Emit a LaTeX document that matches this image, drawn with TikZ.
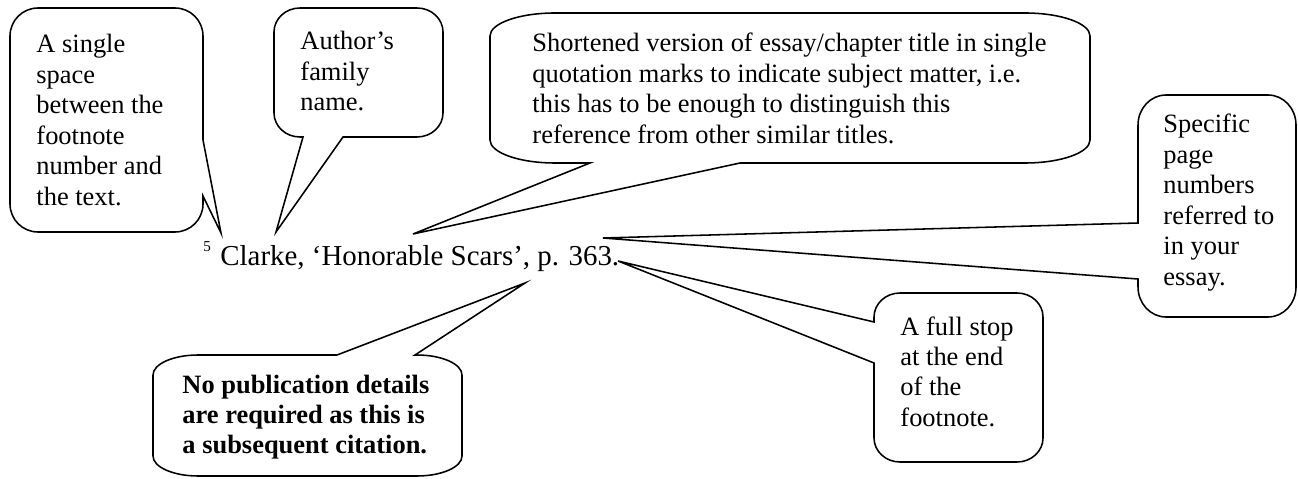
\documentclass[tikz,border=0pt]{standalone}
\usepackage{fontspec}
\setmainfont{Liberation Serif}
\usetikzlibrary{calc}
\def\cXa{0}\def\cXb{0}\def\cYa{0}\def\cYb{0}\def\cRx{0}\def\cRy{0}
\def\cKk{0.552}
\newcommand\cboxdims[6]{\def\cXa{#1}\def\cYa{#2}\def\cXb{#3}\def\cYb{#4}\def\cRx{#5}\def\cRy{#6}}
\newcommand\cpath[4]{(\cXa+\cRx,\cYa) #1 -- (\cXb-\cRx,\cYa)
 .. controls (\cXb-\cRx+\cKk*\cRx,\cYa) and (\cXb,\cYa+\cRy-\cKk*\cRy) .. (\cXb,\cYa+\cRy) #2
 -- (\cXb,\cYb-\cRy) .. controls (\cXb,\cYb-\cRy+\cKk*\cRy) and (\cXb-\cRx+\cKk*\cRx,\cYb) .. (\cXb-\cRx,\cYb) #3
 -- (\cXa+\cRx,\cYb) .. controls (\cXa+\cRx-\cKk*\cRx,\cYb) and (\cXa,\cYb-\cRy+\cKk*\cRy) .. (\cXa,\cYb-\cRy) #4
 -- (\cXa,\cYa+\cRy) .. controls (\cXa,\cYa+\cRy-\cKk*\cRy) and (\cXa+\cRx-\cKk*\cRx,\cYa) .. (\cXa+\cRx,\cYa) -- cycle}
\newcommand\clines[1]{\parbox[t]{12cm}{\raggedright\fontsize{11.9}{13.7}\selectfont #1}}
\tikzset{
  callout/.style={draw=black, line width=0.7pt, fill=white},
  ctext/.style={anchor=base west, inner sep=0pt},
}
\begin{document}
\begin{tikzpicture}[x=0.45pt, y=-0.45pt]
\useasboundingbox (0,0) rectangle (1298,479);
% main footnote text
\node[ctext] (fnum) at (203,252) {\fontsize{6.8}{8}\selectfont 5};
\node[ctext] (ref) at (220,266) {\fontsize{13}{15}\selectfont Clarke, ‘Honorable Scars’, p. 363.};
% tail tips
\coordinate (tip1) at (221,233);
\coordinate (tip2) at (276,232);
\coordinate (tip3) at (413,234);
\coordinate (tip4) at (603,238);
\coordinate (tip5) at (618,261);
\coordinate (tip6) at (525,283);
% callout 1
\cboxdims{10}{8}{203}{232}{28}{28}
\draw[callout] \cpath{}{-- (203,140) -- (tip1) -- (203,196)}{}{};
\node[ctext] (t1) at (36,53) {\clines{A single\\space\\between the\\footnote\\number and\\the text.}};
% callout 2
\cboxdims{274}{8}{443}{137}{26}{24}
\draw[callout] \cpath{}{}{-- (343,137) -- (tip2) -- (303,137)}{};
\node[ctext] (t2) at (300,50) {\clines{Author’s\\family\\name.}};
% callout 3
\cboxdims{490}{13}{1090}{163}{65}{23}
\draw[callout] \cpath{}{}{-- (740,163) -- (tip3) -- (590,163)}{};
\node[ctext] (t3) at (532,52) {\clines{Shortened version of essay/chapter title in single\\quotation marks to indicate subject matter, i.e.\\this has to be enough to distinguish this\\reference from other similar titles.}};
% callout 4
\cboxdims{1138}{95}{1296}{317}{28}{30}
\draw[callout] \cpath{}{}{}{-- (1138,279) -- (tip4) -- (1138,223)};
\node[ctext] (t4) at (1163,133) {\clines{Specific\\page\\numbers\\referred to\\in your\\essay.}};
% callout 5
\cboxdims{874}{293}{1043}{462}{26}{24}
\draw[callout] \cpath{}{}{}{-- (874,363) -- (tip5) -- (874,322)};
\node[ctext] (t5) at (900,335) {\clines{A full stop\\at the end\\of the\\footnote.}};
% callout 6
\cboxdims{153}{355}{462}{476}{45}{20}
\draw[callout] \cpath{-- (337,355) -- (tip6) -- (415,355)}{}{}{};
\node[ctext] (t6) at (182,393) {\clines{\bfseries No publication details\\are required as this is\\a subsequent citation.}};
\end{tikzpicture}
\end{document}
